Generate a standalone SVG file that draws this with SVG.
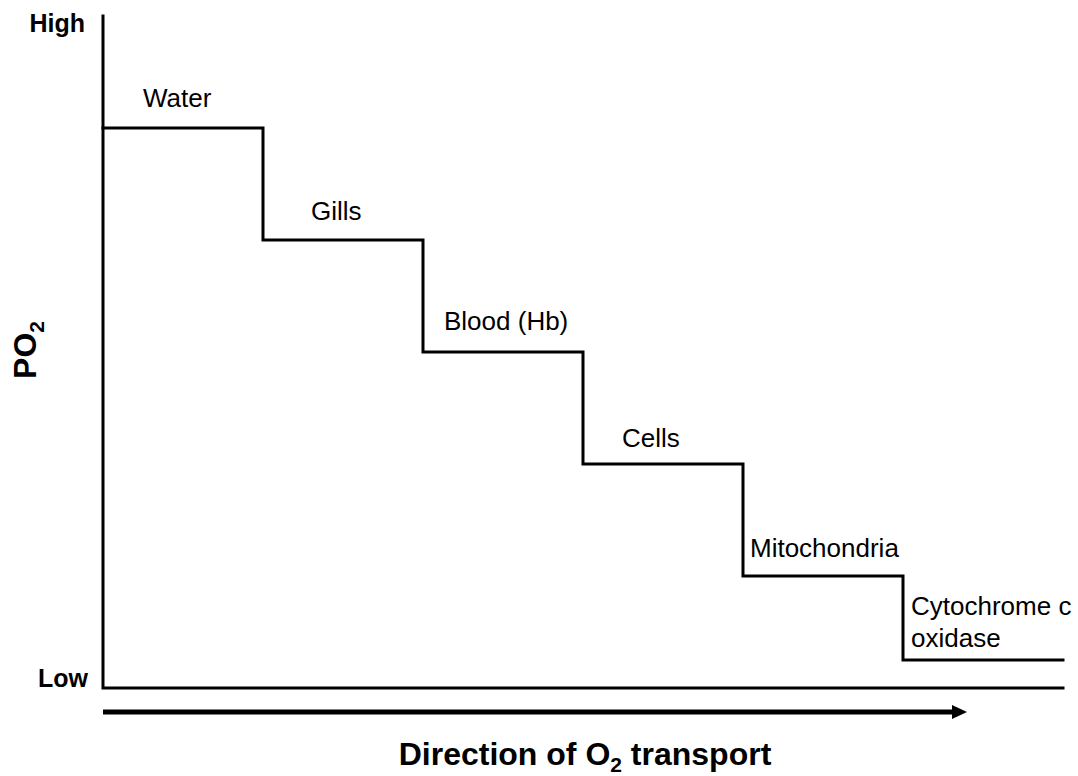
<svg xmlns="http://www.w3.org/2000/svg" width="1078" height="776" viewBox="0 0 1078 776">
<style>
.lbl{font-family:"Liberation Sans",Arial,sans-serif;font-size:26px;fill:#000}
.bold{font-family:"Liberation Sans",Arial,sans-serif;font-weight:bold;fill:#000}
.ln{fill:none;stroke:#000;stroke-width:3;stroke-linejoin:miter;stroke-linecap:square}
</style>
<rect width="1078" height="776" fill="#fff"/>
<g id="axes">
<path class="ln" d="M103,16 V688 H1063"/>
<text class="bold" x="85" y="32" font-size="25" text-anchor="end">High</text>
<text class="bold" x="88" y="687" font-size="25" text-anchor="end">Low</text>
<text class="bold" font-size="32" text-anchor="middle" transform="translate(36,350) rotate(-90)">PO<tspan font-size="21" dy="8">2</tspan></text>
</g>
<g id="connectors">
<path id="profile" class="ln" d="M103,128 H263 V240 H423 V352 H583 V464 H743 V576 H903 V660 H1063"/>
<line id="direction-arrow" x1="103" y1="712" x2="953" y2="712" stroke="#000" stroke-width="5"/>
<polygon points="952,705 967,712 952,719" fill="#000"/>
</g>
<g id="water"><text class="lbl" x="143" y="107">Water</text></g>
<g id="gills"><text class="lbl" x="311" y="220">Gills</text></g>
<g id="blood"><text class="lbl" x="444" y="330">Blood (Hb)</text></g>
<g id="cells"><text class="lbl" x="622" y="447">Cells</text></g>
<g id="mitochondria"><text class="lbl" x="750" y="557">Mitochondria</text></g>
<g id="cytochrome"><text class="lbl" x="911" y="615">Cytochrome c</text><text class="lbl" x="911" y="647">oxidase</text></g>
<g id="title"><text class="bold" x="585" y="765" font-size="32" text-anchor="middle">Direction of O<tspan font-size="21" dy="7">2</tspan><tspan dy="-7"> transport</tspan></text></g>
</svg>
